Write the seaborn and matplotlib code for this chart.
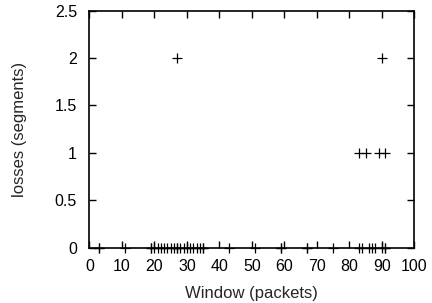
import matplotlib
matplotlib.use("Agg")
import matplotlib.pyplot as plt
import pandas as pd
import seaborn as sns

# losses per window size
window_zero = [3, 3, 11, 19, 19, 20, 21, 22, 23, 24, 25, 26, 27, 27, 28, 29, 30,
               31, 32, 33, 34, 35, 35, 43, 51, 59, 59, 67, 67, 75,
               83, 84, 86, 87, 88, 90, 91, 91]
window_one = [83, 85, 89, 91]
window_two = [27, 90]

window = window_zero + window_one + window_two
losses = [0] * len(window_zero) + [1] * len(window_one) + [2] * len(window_two)
df = pd.DataFrame({"window": window, "losses": losses})

sns.set_style("ticks")
plt.rcParams["font.family"] = ["Liberation Sans", "DejaVu Sans"]

fig = plt.figure(figsize=(4.32, 3.03), dpi=100)
ax = fig.add_axes([0.207, 0.183, 0.752, 0.782])

sns.scatterplot(data=df, x="window", y="losses", marker="+", color="black",
                s=50, linewidth=0.9, ax=ax, legend=False, clip_on=False, zorder=3)

ax.set_xlim(0, 100)
ax.set_ylim(0, 2.5)
ax.set_xticks(range(0, 101, 10))
ax.set_yticks([0, 0.5, 1, 1.5, 2, 2.5])
ax.set_yticklabels(["0", "0.5", "1", "1.5", "2", "2.5"])
ax.tick_params(direction="in", length=5, width=1, top=True, right=True,
               labelsize=11.5, colors="black")
ax.tick_params(axis="x", pad=8)
ax.tick_params(axis="y", pad=9)
for sp in ax.spines.values():
    sp.set_visible(True)
    sp.set_linewidth(1.2)
    sp.set_color("black")

ax.set_xlabel("Window (packets)", fontsize=12, labelpad=9)
ax.set_ylabel("losses (segments)", fontsize=12, labelpad=20)

plt.savefig("out.png", dpi=100)
plt.close("all")
